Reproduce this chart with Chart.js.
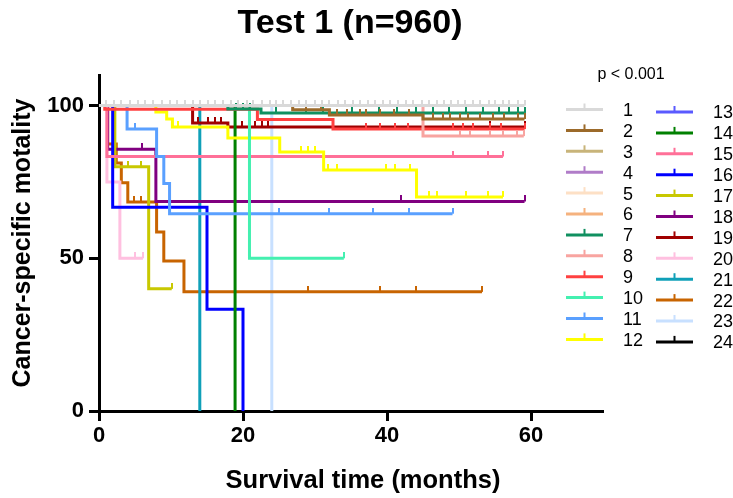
<!DOCTYPE html>
<html>
<head>
<meta charset="utf-8">
<title>Test 1 (n=960)</title>
<script src="https://cdn.jsdelivr.net/npm/chart.js@4.4.1/dist/chart.umd.min.js"></script>
<style>
  html, body { margin: 0; padding: 0; background: #fff; }
  #wrap { width: 733px; height: 498px; }
</style>
</head>
<body>
<div id="wrap"><canvas id="kmChart"></canvas></div>
<script>
// Kaplan-Meier curves
const groupLabels = ['1', '2', '3', '4', '5', '6', '7', '8', '9', '10', '11', '12',
                     '13', '14', '15', '16', '17', '18', '19', '20', '21', '22', '23', '24'];
const lineColors = ['#d9d9d9', '#9c6a2a', '#c8b47a', '#b07cc8', '#fde0c5', '#f5b27e',
                    '#109060', '#f8a4a0', '#ff4040', '#44f0b0', '#5aa0ff', '#ffff00',
                    '#5a5aff', '#008000', '#ff7098', '#0000ff', '#c8c800', '#800080',
                    '#a00000', '#ffc0e0', '#10a0b8', '#c86400', '#c8e0ff', '#000000'];
const xTicks = [0, 20, 40, 60];
const yTicks = [0, 50, 100];
const pValueText = 'p < 0.001';
const xTitle = 'Survival time (months)';

// months at which each curve steps (first = 0, last = end of follow-up)
const stepTimes = [
  [0, 59.1],
  [0, 26.9, 32.0, 45.0, 59.1],
  [0, 58.5],
  [0, 52.0],
  [0, 46.0],
  [0, 55.0],
  [0, 17.9, 22.5, 59.1],
  [0, 45.0, 59.0],
  [0, 0.8, 22.0, 32.5, 59.1],
  [0, 20.9, 34.0],
  [0, 3.9, 8.0, 9.0, 9.8, 49.1],
  [0, 7.9, 9.4, 10.2, 17.9, 25.1, 31.2, 44.1, 56.1],
  [0, 44.0],
  [0, 18.9],
  [0, 1.1, 56.1],
  [0, 1.9, 15.0, 20.0],
  [0, 2.2, 6.9, 10.1],
  [0, 1.2, 7.9, 59.1],
  [0, 13.0, 17.9, 59.1],
  [0, 1.1, 2.9, 6.1],
  [0, 14.0],
  [0, 1.2, 2.4, 3.1, 4.0, 8.0, 9.0, 11.8, 53.2],
  [0, 24.0],
  [0, 50.0]
];

// survival (%) after each step
const stepValues = [
  [100, 100],
  [100, 98.6, 96.9, 95.6, 95.6],
  [100, 100],
  [100, 100],
  [100, 100],
  [100, 100],
  [100, 98.9, 97.6, 97.6],
  [100, 90, 90],
  [100, 98.8, 95.4, 92.3, 92.3],
  [100, 50, 50],
  [100, 92.3, 83.3, 74.5, 64.6, 64.6],
  [100, 97.9, 95.6, 93.0, 89.4, 84.8, 78.9, 70.1, 70.1],
  [100, 100],
  [100, 0],
  [100, 83.3, 83.3],
  [100, 66.7, 33.3, 0],
  [100, 80, 40, 40],
  [100, 85.7, 68.6, 68.6],
  [100, 94.3, 93.0, 93.0],
  [100, 75, 50, 50],
  [100, 0],
  [100, 87.4, 81.2, 74.7, 68.4, 58.6, 49.1, 39.0, 39.0],
  [100, 0],
  [100, 100]
];

// censored observations (months)
const censorTimes = [
  [1.0, 2.1, 3.1, 4.3, 5.4, 6.4, 7.5, 8.7, 9.8, 10.8, 11.9, 13.1, 14.0, 15.1, 16.1, 17.2,
   18.4, 19.3, 20.5, 21.4, 22.6, 23.7, 24.6, 25.6, 26.7, 27.8, 28.8, 30.0, 31.0, 32.0, 33.2,
   34.1, 35.3, 36.2, 37.4, 38.4, 39.4, 40.4, 41.5, 42.7, 43.6, 44.8, 45.8, 46.9, 47.9, 48.9,
   49.9, 50.8, 51.9, 52.9, 54.1, 55.0, 56.1, 57.0, 58.2, 59.1],
  [28.8, 30.9, 33.0, 34.4, 36.2, 37.1, 39.0, 41.0, 43.1, 46.4, 47.8, 48.7, 50.1, 51.3, 52.9,
   54.7, 56.3, 58.2, 59.1],
  [], [], [], [],
  [19.0, 20.0, 21.0, 24.6, 28.7, 31.1, 35.2, 38.9, 41.4, 44.0, 46.4, 48.6, 51.0, 53.3, 55.6,
   57.0, 58.2, 59.1],
  [50.1, 51.5, 54.3, 56.1, 58.0, 59.0],
  [37.1, 39.0, 41.1, 42.9, 49.2, 50.6, 51.9, 54.3, 55.9, 59.1],
  [34.0],
  [5.0, 25.0, 32.0, 38.0, 43.0, 49.1],
  [11.0, 28.1, 29.0, 30.0, 31.8, 33.0, 39.9, 41.1, 43.2, 45.9, 46.9, 51.0, 54.0, 56.1],
  [],
  [],
  [49.1, 54.0, 56.1],
  [],
  [4.0, 5.9, 10.1],
  [6.0, 42.0, 59.1],
  [13.7, 15.1, 16.1, 17.0, 19.8, 21.6, 22.6, 23.5, 54.3, 59.1],
  [5.0, 6.1],
  [],
  [4.8, 5.9, 29.0, 39.0, 44.0, 53.2],
  [],
  []
];

Chart.defaults.font.family = '"Liberation Sans", Arial, sans-serif';
Chart.defaults.color = '#000';

// survival value of a curve at time t
function survivalAt(times, values, t) {
  let s = values[0];
  for (let i = 0; i < times.length; i++) {
    if (times[i] <= t) s = values[i];
  }
  return s;
}

// small upward tick used as censor mark
function censorMark(color) {
  const c = document.createElement('canvas');
  c.width = 2;
  c.height = 12;
  const g = c.getContext('2d');
  g.fillStyle = color;
  g.fillRect(0, 0, 2, 6);
  return c;
}

const datasets = groupLabels.map((label, g) => {
  const pts = stepTimes[g].map((t, i) => ({ x: t, y: stepValues[g][i], censored: false }));
  censorTimes[g].forEach(t => {
    pts.push({ x: t, y: survivalAt(stepTimes[g], stepValues[g], t), censored: true });
  });
  pts.sort((a, b) => a.x - b.x || (a.censored - b.censored));
  return {
    label: label,
    data: pts,
    borderColor: lineColors[g],
    backgroundColor: lineColors[g],
    borderWidth: 3,
    stepped: true,
    fill: false,
    pointStyle: censorMark(lineColors[g]),
    pointRadius: ctx => (ctx.raw && ctx.raw.censored ? 2 : 0),
    pointHoverRadius: 0
  };
});

// legend in two columns, the p value and the x axis title
const kmLegend = {
  id: 'kmLegend',
  afterDraw(chart) {
    const ctx = chart.ctx;
    ctx.save();
    ctx.fillStyle = '#000';
    ctx.textBaseline = 'middle';
    ctx.textAlign = 'center';
    ctx.font = 'bold 25.5px "Liberation Sans", Arial, sans-serif';
    ctx.fillText(xTitle, 363, 481);
    ctx.font = '16px "Liberation Sans", Arial, sans-serif';
    ctx.fillText(pValueText, 631, 75);
    ctx.textAlign = 'left';
    ctx.font = '18px "Liberation Sans", Arial, sans-serif';
    groupLabels.forEach((label, i) => {
      const col = i < 12 ? 0 : 1;
      const row = i % 12;
      const x0 = col ? 656 : 566;
      const y = (col ? 112 : 109.5) + row * 20.9;
      ctx.strokeStyle = lineColors[i];
      ctx.lineWidth = 3;
      ctx.beginPath();
      ctx.moveTo(x0, y);
      ctx.lineTo(x0 + 37, y);
      ctx.stroke();
      ctx.fillStyle = lineColors[i];
      ctx.fillRect(x0 + 17.5, y - 6, 2, 6);
      ctx.fillStyle = '#000';
      ctx.fillText(label, x0 + 57, y + 1.5);
    });
    ctx.restore();
  }
};

new Chart(document.getElementById('kmChart'), {
  type: 'line',
  data: { datasets: datasets },
  options: {
    responsive: true,
    maintainAspectRatio: false,
    animation: false,
    events: [],
    layout: { padding: { left: 0, right: 33, top: 0, bottom: 0 } },
    plugins: {
      legend: { display: false },
      tooltip: { enabled: false },
      title: {
        display: true,
        text: 'Test 1 (n=960)',
        color: '#000',
        font: { size: 34, weight: 'bold' },
        padding: { top: 3.6, bottom: 30.6 }
      }
    },
    scales: {
      x: {
        type: 'linear',
        min: 0,
        max: 70,
        afterBuildTicks: s => { s.ticks = xTicks.map(v => ({ value: v })); },
        afterFit: s => { s.height = 87; },
        grid: { display: true, drawOnChartArea: false, drawTicks: true, tickLength: 10, tickWidth: 3, tickColor: '#000' },
        border: { display: true, color: '#000', width: 3 },
        ticks: { color: '#000', padding: 2, maxRotation: 0, font: { size: 22, weight: 'bold' } }
      },
      y: {
        type: 'linear',
        min: 0,
        max: 110,
        afterBuildTicks: s => { s.ticks = yTicks.map(v => ({ value: v })); },
        afterFit: s => { s.width = 99; },
        grid: { display: true, drawOnChartArea: false, drawTicks: true, tickLength: 10, tickWidth: 3, tickColor: '#000' },
        border: { display: true, color: '#000', width: 3 },
        ticks: { color: '#000', padding: 5, font: { size: 22, weight: 'bold' } },
        title: {
          display: true,
          text: 'Cancer-specific motality',
          color: '#000',
          font: { size: 25, weight: 'bold' },
          padding: { top: 8, bottom: 0 }
        }
      },
      yRight: {
        position: 'right',
        display: true,
        afterFit: s => { s.width = 97; },
        grid: { display: false },
        border: { display: false },
        ticks: { display: false }
      }
    }
  },
  plugins: [kmLegend]
});
</script>
</body>
</html>
